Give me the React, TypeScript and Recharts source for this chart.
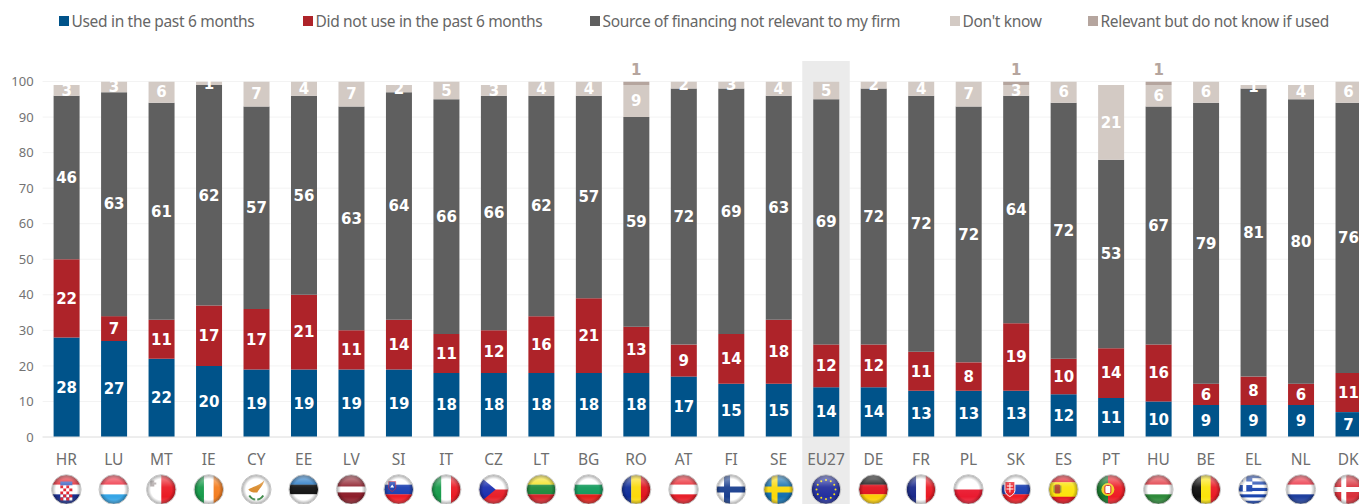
import React from "react";
import { BarChart, Bar, XAxis, YAxis, CartesianGrid, Legend, LabelList, ReferenceArea } from "recharts";

const countries = ["HR","LU","MT","IE","CY","EE","LV","SI","IT","CZ","LT","BG","RO","AT","FI","SE","EU27","DE","FR","PL","SK","ES","PT","HU","BE","EL","NL","DK"];
const usedValues = [28,27,22,20,19,19,19,19,18,18,18,18,18,17,15,15,14,14,13,13,13,12,11,10,9,9,9,7];
const notUsedValues = [22,7,11,17,17,21,11,14,11,12,16,21,13,9,14,18,12,12,11,8,19,10,14,16,6,8,6,11];
const notRelevantValues = [46,63,61,62,57,56,63,64,66,66,62,57,59,72,69,63,69,72,72,72,64,72,53,67,79,81,80,76];
const dontKnowValues = [3,3,6,1,7,4,7,2,5,3,4,4,9,2,3,4,5,2,4,7,3,6,21,6,6,1,4,6];
const relevantUnknownValues = [0,0,0,0,0,0,0,0,0,0,0,0,1,0,0,0,0,0,0,0,1,0,0,1,0,0,0,0];
const yTicks = [0,10,20,30,40,50,60,70,80,90,100];

const seriesNames = ["Used in the past 6 months","Did not use in the past 6 months","Source of financing not relevant to my firm","Don't know","Relevant but do not know if used"];
const seriesKeys = ["used","notUsed","notRelevant","dontKnow","relevantUnknown"];
const seriesColors = ["#00538a","#ae2329","#5f5f5f","#d3cac4","#b5a59e"];
const legendTextWidths = [183,226,299,77,228];

const data = countries.map((c,i)=>({
  code:c, used:usedValues[i], notUsed:notUsedValues[i], notRelevant:notRelevantValues[i],
  dontKnow:dontKnowValues[i], relevantUnknown:relevantUnknownValues[i],
}));

const FONT = "'Noto Sans', sans-serif";
const LABEL_FONT = "'DejaVu Sans', sans-serif";

type Stripes = { dir:"h"|"v"; colors:string[]; weights?:number[] };
const flagStripes: Record<string,Stripes> = {
  HR:{dir:"h",colors:["#e2202c","#ffffff","#1b2f8f"]},
  LU:{dir:"h",colors:["#ee2a3c","#ffffff","#35a5e6"]},
  MT:{dir:"v",colors:["#ffffff","#ea1a24"]},
  IE:{dir:"v",colors:["#169b4a","#ffffff","#f47e20"]},
  CY:{dir:"h",colors:["#ffffff"]},
  EE:{dir:"h",colors:["#1d73c2","#111111","#ffffff"]},
  LV:{dir:"h",colors:["#8e1f2c","#ffffff","#8e1f2c"],weights:[2,1,2]},
  SI:{dir:"h",colors:["#ffffff","#1a3fb0","#ee1c25"]},
  IT:{dir:"v",colors:["#169b4a","#ffffff","#ea1a24"]},
  CZ:{dir:"h",colors:["#ffffff","#e8202a"]},
  LT:{dir:"h",colors:["#f4e01c","#1d8a3c","#d8242c"]},
  BG:{dir:"h",colors:["#ffffff","#129a5c","#e3201c"]},
  RO:{dir:"v",colors:["#102e9a","#fbd90a","#e0131e"]},
  AT:{dir:"h",colors:["#e8202a","#ffffff","#e8202a"]},
  FI:{dir:"h",colors:["#ffffff"]},
  SE:{dir:"h",colors:["#1470b0"]},
  EU27:{dir:"h",colors:["#232f9e"]},
  DE:{dir:"h",colors:["#111111","#e0131e","#fcce05"]},
  FR:{dir:"v",colors:["#1a2a8c","#ffffff","#ea1a24"]},
  PL:{dir:"h",colors:["#ffffff","#ea1a30"]},
  SK:{dir:"h",colors:["#ffffff","#1a3fb0","#ee1c25"]},
  ES:{dir:"h",colors:["#e0131e","#fbe30a","#e0131e"],weights:[1,2,1]},
  PT:{dir:"v",colors:["#157a2a","#ee1c25"],weights:[2,3]},
  HU:{dir:"h",colors:["#e0303a","#ffffff","#2e8a3a"]},
  BE:{dir:"v",colors:["#111111","#fbe30a","#ea1a24"]},
  EL:{dir:"h",colors:["#1a45b0","#ffffff","#1a45b0","#ffffff","#1a45b0","#ffffff","#1a45b0","#ffffff","#1a45b0"]},
  NL:{dir:"h",colors:["#ea2a3c","#ffffff","#1e3f9e"]},
  DK:{dir:"h",colors:["#d9303a"]},
};

function FlagExtras({code}:{code:string}){
  switch(code){
    case "HR": return <g>
      <rect x={-6} y={-8} width={12} height={4} fill="#3a5fc0"/>
      {[0,1,2,3,4].map(r=>[0,1,2,3].map(c=><rect key={r+"-"+c} x={-6+c*3} y={-4+r*3} width={3} height={3} fill={(r+c)%2?"#ffffff":"#e2202c"}/>))}
    </g>;
    case "MT": return <path d="M-11,-9h4v2h2v2h-2v2h-4z" fill="#b0a8a8"/>;
    case "CY": return <g>
      <path d="M-8,0 C-4,-3 2,-3 8,-9 C7,-4 3,-1 1,3 C-3,3 -6,3 -8,0Z" fill="#d98a2a"/>
      <path d="M-7,6 C-5,9 -2,10 -1,10 M7,6 C5,9 2,10 1,10" stroke="#3f8a4a" strokeWidth={2} fill="none"/>
    </g>;
    case "SI": return <g>
      <path d="M-10,-8h7v6c0,2 -2,3 -3.5,4c-1.5,-1 -3.5,-2 -3.5,-4z" fill="#1a3fb0" stroke="#ee1c25" strokeWidth={0.6}/>
      <path d="M-8.5,-2l2,-3l2,3z" fill="#ffffff"/>
    </g>;
    case "CZ": return <path d="M-16,-15L2,0L-16,15Z" fill="#1a2fb0"/>;
    case "FI": return <g><rect x={-7} y={-16} width={6} height={32} fill="#1a3f8f"/><rect x={-16} y={-3} width={32} height={6} fill="#1a3f8f"/></g>;
    case "SE": return <g><rect x={-7} y={-16} width={6} height={32} fill="#fbd90a"/><rect x={-16} y={-3} width={32} height={6} fill="#fbd90a"/></g>;
    case "DK": return <g><rect x={-7} y={-16} width={5} height={32} fill="#ffffff"/><rect x={-16} y={-2.5} width={32} height={5} fill="#ffffff"/></g>;
    case "EU27": return <g>{[0,30,60,90,120,150,180,210,240,270,300,330].map(a=>
      <circle key={a} cx={9.5*Math.cos(a*Math.PI/180)} cy={9.5*Math.sin(a*Math.PI/180)} r={1} fill="#fbe30a"/>)}</g>;
    case "SK": return <g>
      <path d="M-11,-8h10v9c0,3 -3,5 -5,6c-2,-1 -5,-3 -5,-6z" fill="#e8202a" stroke="#ffffff" strokeWidth={1}/>
      <path d="M-6.5,-6.5h1v2.5h2.5v1h-2.5v2h3v1h-3v3h-1v-3h-3v-1h3v-2h-2.5v-1h2.5z" fill="#ffffff"/>
    </g>;
    case "ES": return <g><rect x={-9} y={-5} width={6} height={9} rx={1.5} fill="#b5402a"/><rect x={-10} y={-4} width={1.5} height={7} fill="#999933"/><rect x={-3.5} y={-4} width={1.5} height={7} fill="#999933"/></g>;
    case "PT": return <g><circle cx={-3} cy={0} r={6.5} fill="#f0d020"/><rect x={-6} y={-4} width={6} height={8} rx={1.5} fill="#ffffff" stroke="#d8202a"/></g>;
    case "EL": return <g><rect x={-16} y={-15} width={15} height={17} fill="#1a45b0"/><rect x={-10.5} y={-15} width={3.5} height={17} fill="#ffffff"/><rect x={-16} y={-8} width={15} height={3.5} fill="#ffffff"/></g>;
    default: return null;
  }
}

function Flag({code}:{code:string}){
  const s = flagStripes[code];
  const weights = s.weights ?? s.colors.map(()=>1);
  const total = weights.reduce((a,b)=>a+b,0);
  let acc = 0;
  const R = 14.5;
  return (
    <g>
      <defs>
        <clipPath id={"fc-"+code}><circle r={R}/></clipPath>
        <radialGradient id={"fr-"+code} cx="50%" cy="50%" r="50%">
          <stop offset="72%" stopColor="#000" stopOpacity={0}/>
          <stop offset="100%" stopColor="#000" stopOpacity={0.32}/>
        </radialGradient>
        <linearGradient id={"fl-"+code} x1="0" y1="0" x2="0" y2="1">
          <stop offset="0%" stopColor="#fff" stopOpacity={0.55}/>
          <stop offset="42%" stopColor="#fff" stopOpacity={0.06}/>
          <stop offset="75%" stopColor="#fff" stopOpacity={0}/>
          <stop offset="100%" stopColor="#fff" stopOpacity={0.2}/>
        </linearGradient>
      </defs>
      <g clipPath={`url(#fc-${code})`}>
        {s.colors.map((c,i)=>{
          const start = acc/total; acc += weights[i]; const w = weights[i]/total;
          return s.dir==="h"
            ? <rect key={i} x={-R} y={-R+start*2*R} width={2*R} height={w*2*R+0.2} fill={c}/>
            : <rect key={i} y={-R} x={-R+start*2*R} height={2*R} width={w*2*R+0.2} fill={c}/>;
        })}
        <FlagExtras code={code}/>
        <circle r={R} fill={`url(#fl-${code})`}/>
        <circle r={R} fill={`url(#fr-${code})`}/>
      </g>
      <circle r={R+0.3} fill="none" stroke="#c4c4c4" strokeWidth={1}/>
    </g>
  );
}

function CountryTick(props:any){
  const {x,y,payload} = props;
  return (
    <g>
      <text x={x} y={y+19.5} textAnchor="middle" fontFamily={FONT} fontSize={15.5} fill="#6e6e6e">{payload.value}</text>
      <g transform={`translate(${x},${y+44.5})`}><Flag code={payload.value}/></g>
    </g>
  );
}

function LegendContent(){
  return (
    <div style={{display:"flex",position:"absolute",left:59,top:9,whiteSpace:"nowrap",fontFamily:FONT,fontSize:15.5,letterSpacing:-0.32,color:"#666",lineHeight:"24px"}}>
      {seriesNames.map((n,i)=>(
        <div key={n} style={{display:"flex",alignItems:"center",marginRight:48.5}}>
          <span style={{width:9.5,height:9.5,background:seriesColors[i],marginRight:3}}/>
          <span style={{width:legendTextWidths[i]}}>{n}</span>
        </div>
      ))}
    </div>
  );
}

function Band(p:any){
  const above = 20.5, below = 67;
  return <rect x={p.x} y={p.y-above} width={p.width} height={p.height+above+below} fill="#ebebeb"/>;
}

const hideZero = (v:any)=> (v ? v : "");

export default function App(){
  return (
    <div style={{position:"absolute",left:0,top:0,width:1359,height:504,overflow:"hidden",background:"#fff"}}>
      <BarChart width={1372} height={504} data={data} stackOffset="none" barSize={26}
        margin={{top:41.5,right:0,bottom:0,left:0}}>
        <Legend verticalAlign="top" height={40} wrapperStyle={{left:0,top:0,width:1359,height:40}} content={<LegendContent/>}/>
        <ReferenceArea x1="EU27" x2="EU27" ifOverflow="visible" shape={<Band/>}/>
        <CartesianGrid vertical={false} stroke="#f3f3f3"/>
        <XAxis dataKey="code" interval={0} height={67} tickLine={false} axisLine={{stroke:"#e2e2e2"}} tick={<CountryTick/>}/>
        <YAxis width={42.6} domain={[0,100]} ticks={yTicks} allowDataOverflow tickLine={false} axisLine={false}
          tickMargin={3} tick={{fill:"#737373",fontSize:13,fontFamily:FONT}}/>
        {seriesKeys.map((k,i)=>(
          <Bar key={k} dataKey={k} name={seriesNames[i]} stackId="a" fill={seriesColors[i]} isAnimationActive={false}>
            {i<4
              ? <LabelList dataKey={k} position="center" fill="#ffffff" fontFamily={LABEL_FONT} fontWeight={700} fontSize={15}/>
              : <LabelList dataKey={k} position="top" offset={7} formatter={hideZero} fill="#b5a59e" fontFamily={LABEL_FONT} fontWeight={700} fontSize={15}/>}
          </Bar>
        ))}
      </BarChart>
    </div>
  );
}
